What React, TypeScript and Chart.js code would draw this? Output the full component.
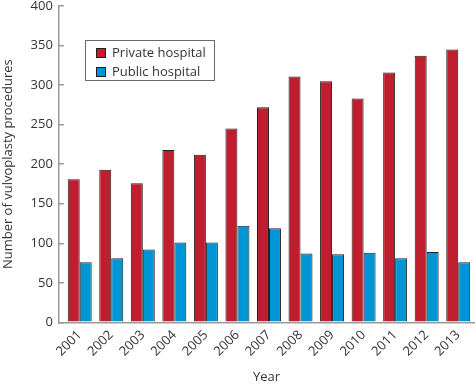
import React, { useEffect, useRef } from 'react';
import { Chart, registerables } from 'chart.js';

Chart.register(...registerables);

const years = ['2001', '2002', '2003', '2004', '2005', '2006', '2007', '2008', '2009', '2010', '2011', '2012', '2013'];
const privateHospital = [181, 193, 176, 218, 212, 245, 272, 311, 305, 283, 316, 337, 345];
const publicHospital = [76, 81, 92, 101, 101, 122, 119, 87, 86, 88, 81, 89, 76];
const seriesLabels = ['Private hospital', 'Public hospital'];
const seriesColors = ['#BE1E2D', '#0096D6'];

const FONT = '"Open Sans", "DejaVu Sans", sans-serif';
const TEXT = '#333333';
const AXIS = '#9a9a9a';

const insideLegend = {
  id: 'insideLegend',
  afterDraw(chart: any) {
    const { ctx, chartArea } = chart;
    const x = Math.round(chartArea.left + 26);
    const y = Math.round(chartArea.top + 34);
    ctx.save();
    ctx.strokeStyle = '#6a6a6a';
    ctx.lineWidth = 1;
    ctx.strokeRect(x + 0.5, y + 0.5, 129, 40);
    chart.data.datasets.forEach((ds: any, i: number) => {
      const iy = y + 8 + Math.round(i * 18.5);
      ctx.fillStyle = ds.backgroundColor;
      ctx.fillRect(x + 11, iy, 9, 9);
      ctx.strokeStyle = '#231F20';
      ctx.strokeRect(x + 11.5, iy + 0.5, 9, 9);
      ctx.fillStyle = TEXT;
      ctx.font = '13px ' + FONT;
      ctx.textBaseline = 'middle';
      ctx.textAlign = 'left';
      ctx.fillText(ds.label, x + 27, iy + 5);
    });
    ctx.restore();
  },
};

export default function App() {
  const ref = useRef<HTMLCanvasElement | null>(null);

  useEffect(() => {
    document.body.style.margin = '0';
    const canvas = ref.current;
    if (!canvas) return;
    const chart = new Chart(canvas, {
      type: 'bar',
      data: {
        datasets: [
          {
            label: seriesLabels[0],
            data: privateHospital.map((v, i) => ({ x: i, y: v })),
            backgroundColor: seriesColors[0],
            borderColor: '#231F20',
            borderWidth: 1,
            inflateAmount: 0,
          },
          {
            label: seriesLabels[1],
            data: publicHospital.map((v, i) => ({ x: i, y: v })),
            backgroundColor: seriesColors[1],
            borderColor: '#231F20',
            borderWidth: 1,
            inflateAmount: 0,
          },
        ],
      },
      options: {
        animation: false,
        responsive: false,
        maintainAspectRatio: false,
        layout: { padding: { top: 0, right: 1, bottom: 0, left: 0 } },
        datasets: { bar: { categoryPercentage: 0.76, barPercentage: 1 } } as any,
        plugins: {
          legend: { display: false },
          tooltip: { enabled: false },
        },
        scales: {
          x: {
            type: 'linear',
            offset: false,
            min: -0.66,
            max: 12.5,
            grid: { display: false, drawTicks: false, offset: false },
            border: { display: true, color: AXIS, width: 1.5 },
            afterBuildTicks: (axis: any) => {
              axis.ticks = years.map((_, i) => ({ value: i }));
            },
            ticks: {
              autoSkip: false,
              maxRotation: 45,
              minRotation: 45,
              padding: 5,
              color: TEXT,
              font: { family: FONT, size: 13 },
              callback: (v: any) => years[v] ?? '',
            },
            title: {
              display: true,
              text: 'Year',
              color: TEXT,
              font: { family: FONT, size: 13 },
              padding: { top: 5, bottom: -1 },
            },
          },
          y: {
            min: 0,
            max: 400,
            grid: { display: true, drawOnChartArea: false, drawTicks: true, tickLength: -5, color: AXIS, lineWidth: 1.5 },
            border: { display: true, color: AXIS, width: 1.5 },
            afterFit: (axis: any) => {
              axis.paddingTop = 6;
            },
            ticks: {
              stepSize: 50,
              padding: 11,
              color: TEXT,
              font: { family: FONT, size: 13 },
            },
            title: {
              display: true,
              text: 'Number of vulvoplasty procedures',
              color: TEXT,
              font: { family: FONT, size: 13 },
              padding: { top: 0, bottom: 4 },
            },
          },
        },
      },
      plugins: [insideLegend],
    });
    return () => chart.destroy();
  }, []);

  return (
    <div style={{ width: 475, height: 384, position: 'relative' }}>
      <canvas ref={ref} width={475} height={384} style={{ width: 475, height: 384, display: 'block' }} />
    </div>
  );
}
